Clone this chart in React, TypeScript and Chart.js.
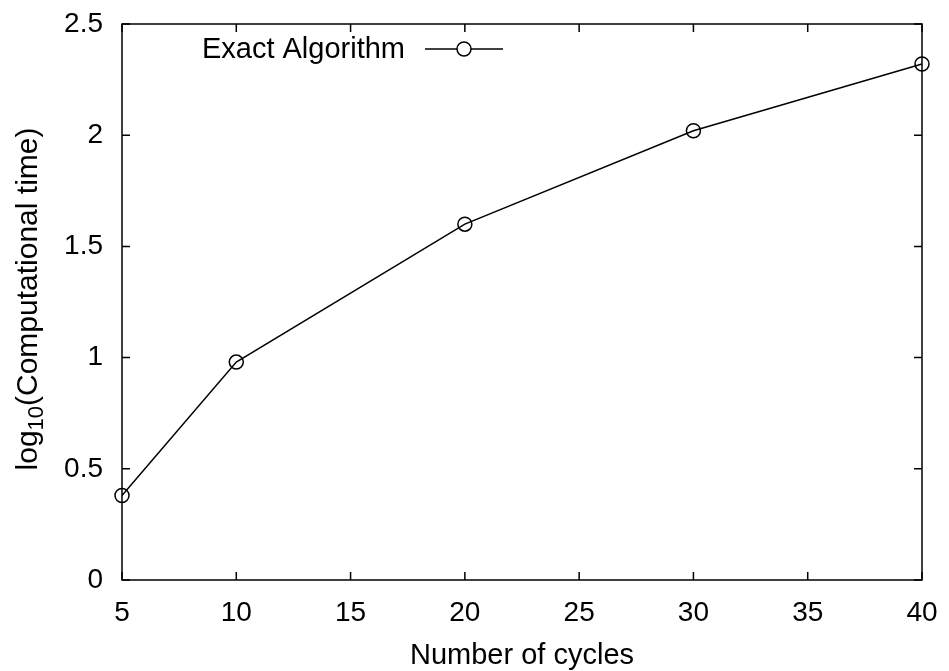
import React, { useEffect, useRef } from "react";
import { Chart, registerables } from "chart.js";

Chart.register(...registerables);

const cycles = [5, 10, 20, 30, 40];
const logTime = [0.38, 0.98, 1.6, 2.02, 2.32];
const seriesLabel = "Exact Algorithm";
const xTitle = "Number of cycles";
const yTitleMain = "log";
const yTitleSub = "10";
const yTitleRest = "(Computational time)";

const FONT = '"Liberation Sans", Arial, Helvetica, sans-serif';

const framePlugin = {
  id: "gnuplotFrame",
  afterDatasetsDraw(chart: any) {
    const { ctx, chartArea } = chart;
    const { left, right, top, bottom } = chartArea;
    const xs = chart.scales.x;
    const ys = chart.scales.y;
    ctx.save();
    ctx.strokeStyle = "#000";
    ctx.lineWidth = 1.5;
    ctx.strokeRect(left, top, right - left, bottom - top);
    const tl = 8;
    ctx.beginPath();
    xs.ticks.forEach((t: any) => {
      const px = xs.getPixelForValue(t.value);
      ctx.moveTo(px, bottom);
      ctx.lineTo(px, bottom - tl);
      ctx.moveTo(px, top);
      ctx.lineTo(px, top + tl);
    });
    ys.ticks.forEach((t: any) => {
      const py = ys.getPixelForValue(t.value);
      ctx.moveTo(left, py);
      ctx.lineTo(left + tl, py);
      ctx.moveTo(right, py);
      ctx.lineTo(right - tl, py);
    });
    ctx.stroke();

    // legend
    const ds = chart.data.datasets[0];
    ctx.fillStyle = "#000";
    ctx.font = `29px ${FONT}`;
    ctx.textAlign = "right";
    ctx.textBaseline = "alphabetic";
    ctx.fillText(ds.label, 405, 58);
    ctx.beginPath();
    ctx.lineWidth = 1.5;
    ctx.moveTo(425, 49);
    ctx.lineTo(503, 49);
    ctx.stroke();
    ctx.beginPath();
    ctx.arc(464, 49, 7, 0, Math.PI * 2);
    ctx.fillStyle = "#fff";
    ctx.fill();
    ctx.stroke();

    // x title
    ctx.fillStyle = "#000";
    ctx.font = `29px ${FONT}`;
    ctx.textAlign = "center";
    ctx.fillText(xTitle, (left + right) / 2, 664);

    // y title with subscript
    const mainFont = `30px ${FONT}`;
    const subFont = `22px ${FONT}`;
    ctx.font = mainFont;
    const w1 = ctx.measureText(yTitleMain).width;
    const w3 = ctx.measureText(yTitleRest).width;
    ctx.font = subFont;
    const w2 = ctx.measureText(yTitleSub).width;
    const total = w1 + w2 + w3;
    ctx.translate(37, 299);
    ctx.rotate(-Math.PI / 2);
    ctx.textAlign = "left";
    let cx = -total / 2;
    ctx.font = mainFont;
    ctx.fillText(yTitleMain, cx, 0);
    cx += w1;
    ctx.font = subFont;
    ctx.fillText(yTitleSub, cx, 6);
    cx += w2;
    ctx.font = mainFont;
    ctx.fillText(yTitleRest, cx, 0);
    ctx.restore();
  },
};

const zeroPad = (s: any) => {
  s.paddingTop = 0;
  s.paddingBottom = 0;
  s.paddingLeft = 0;
  s.paddingRight = 0;
};

export default function App() {
  const ref = useRef<HTMLCanvasElement | null>(null);
  useEffect(() => {
    document.body.style.margin = "0";
    if (!ref.current) return;
    const chart = new Chart(ref.current, {
      type: "line",
      data: {
        datasets: [
          {
            label: seriesLabel,
            data: cycles.map((c, i) => ({ x: c, y: logTime[i] })),
            borderColor: "#000",
            borderWidth: 1.5,
            pointStyle: "circle",
            pointRadius: 7,
            pointBorderWidth: 1.5,
            pointBorderColor: "#000",
            pointBackgroundColor: "rgba(0,0,0,0)",
            fill: false,
            tension: 0,
            clip: false as any,
          },
        ],
      },
      options: {
        responsive: false,
        animation: false,
        devicePixelRatio: 1,
        layout: { padding: { top: 24, right: 27, left: 0, bottom: 0 } },
        plugins: { legend: { display: false }, tooltip: { enabled: false } },
        scales: {
          x: {
            type: "linear",
            min: 5,
            max: 40,
            ticks: {
              stepSize: 5,
              color: "#000",
              font: { size: 28, family: FONT },
              padding: 16,
              maxRotation: 0,
            },
            grid: { display: false, drawTicks: false },
            border: { display: false },
            afterFit: (s: any) => {
              s.height = 91;
              zeroPad(s);
            },
          },
          y: {
            type: "linear",
            min: 0,
            max: 2.5,
            ticks: {
              stepSize: 0.5,
              color: "#000",
              font: { size: 28, family: FONT },
              padding: 19,
              callback: (v: any) => String(v),
            },
            grid: { display: false, drawTicks: false },
            border: { display: false },
            afterFit: (s: any) => {
              s.width = 122;
              zeroPad(s);
            },
          },
        },
      },
      plugins: [framePlugin],
    });
    return () => chart.destroy();
  }, []);
  return (
    <div style={{ width: 949, height: 671, background: "#fff" }}>
      <canvas ref={ref} width={949} height={671} style={{ display: "block" }} />
    </div>
  );
}
